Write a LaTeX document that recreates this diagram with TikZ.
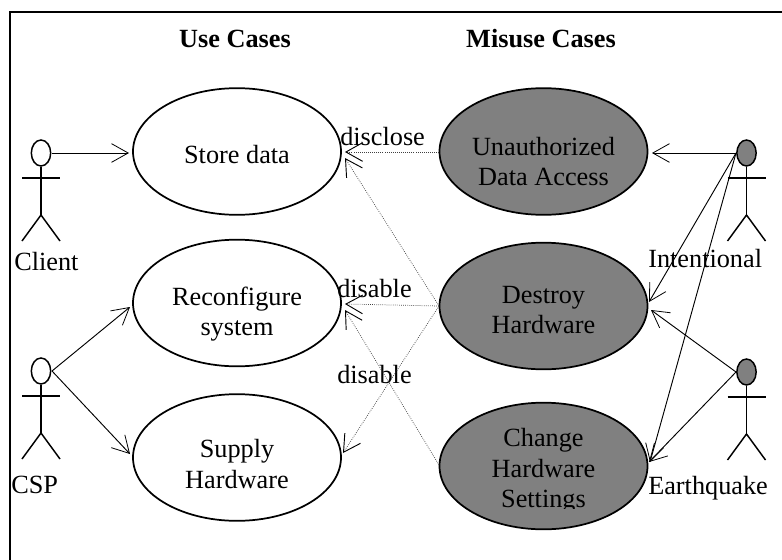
\documentclass[tikz,border=0pt]{standalone}
\usepackage{fontspec}
\setmainfont{Liberation Serif}
\usetikzlibrary{arrows.meta,shapes.geometric}
\definecolor{misuse}{HTML}{808080}
\tikzset{
  x=0.75pt,y=-0.75pt,
  usecase/.style={draw=black,line width=1.3pt,fill=white,ellipse,minimum width=156pt,minimum height=95pt,inner sep=0pt},
  misusecase/.style={usecase,fill=misuse},
  casetext/.style={inner sep=0pt,align=center,font=\fontsize{19.7}{23}\selectfont},
  lbl/.style={inner sep=0pt,font=\fontsize{19.7}{23}\selectfont,anchor=base west},
  head/.style={inner sep=0pt,font=\fontsize{19.7}{23}\selectfont\bfseries,anchor=base},
  assoc/.style={draw=black,line width=0.7pt,-{Straight Barb[length=12.5pt,width=14pt,line width=0.6pt]}},
  threat/.style={draw=black!75,line width=0.55pt,densely dotted,-{Straight Barb[length=12.5pt,width=14pt,line width=0.7pt,color=black]}},
  limb/.style={draw=black,line width=1.1pt}
}
\newcommand{\actor}[4]{% name, x, y(head centre), fill
  \node[draw=black,line width=1.1pt,fill=#4,ellipse,minimum width=14.5pt,minimum height=19.5pt,inner sep=0pt] (#1) at (#2,#3) {};
  \coordinate (#1l) at (#2-19,#3+25);
  \coordinate (#1r) at (#2+19,#3+25);
  \coordinate (#1h) at (#2,#3+62);
  \coordinate (#1f) at (#2-19,#3+88);
  \coordinate (#1g) at (#2+19,#3+88);
  \draw[limb] (#1) -- (#1h);
  \draw[limb] (#1l) -- (#1r);
  \draw[limb] (#1f) -- (#1h) -- (#1g);
}
\begin{document}
\begin{tikzpicture}
\useasboundingbox (0,0) rectangle (782,560);
\coordinate (fa) at (10,560);
\coordinate (fb) at (10,12);
\coordinate (fc) at (782,12);
\draw[black,line width=1.5pt] (fa) -- (fb) -- (fc);

\node[head] (hu) at (235,48) {Use Cases};
\node[head] (hm) at (541,48) {Misuse Cases};

\node[usecase] (store) at (237,151.5) {};
\node[usecase] (reconf) at (237,303) {};
\node[usecase] (supply) at (237,457.5) {};
\node[misusecase] (unauth) at (543.5,151.5) {};
\node[misusecase] (destroy) at (543.5,306) {};
\node[misusecase] (change) at (543.5,466) {};

\node[casetext,anchor=base] (tstore) at (237,163) {Store data};
\node[casetext] (treconf) at (237,314) {Reconfigure\\system};
\node[casetext] (tsupply) at (237,464) {Supply\\Hardware};
\node[casetext] (tunauth) at (543.5,161.5) {Unauthorized\\Data Access};
\node[casetext] (tdestroy) at (543.5,310) {Destroy\\Hardware};
\begin{scope}
  \clip (440,400) rectangle (650,508);
  \node[casetext] (tchange) at (543.5,471) {Change\\Hardware\\Settings};
\end{scope}

\actor{client}{41}{153}{white}
\actor{csp}{41}{371}{white}
\actor{intent}{746.5}{153}{misuse}
\actor{quake}{746.5}{372}{misuse}

\node[lbl] (lclient) at (14,270) {Client};
\node[lbl] (lcsp) at (11,493) {CSP};
\node[lbl] (lintent) at (648,267) {Intentional};
\node[lbl] (lquake) at (648,494) {Earthquake};
\node[lbl] (ldisclose) at (340,145) {disclose};
\node[lbl] (ldisable) at (337,297) {disable};
\node[lbl] (ldisableb) at (337,383) {disable};

\coordinate (pc) at (52,153);
\coordinate (pd) at (52,371);
\coordinate (pi) at (736,153);
\coordinate (pq) at (736,372);
\coordinate (ps) at (129,153);
\coordinate (pr) at (130,307);
\coordinate (pt) at (130,454);
\coordinate (pu) at (652,153);
\coordinate (pdi) at (649,302);
\coordinate (pdq) at (651,310);
\coordinate (pci) at (650,462);
\coordinate (pcq) at (649,462);
\draw[assoc] (pc) -- (ps);
\draw[assoc] (pd) -- (pr);
\draw[assoc] (pd) -- (pt);
\draw[assoc] (pi) -- (pu);
\draw[assoc] (pi) -- (pdi);
\draw[assoc] (pi) -- (pci);
\draw[assoc] (pq) -- (pdq);
\draw[assoc] (pq) -- (pcq);

\coordinate (du) at (439,152);
\coordinate (dd) at (439,306);
\coordinate (dc) at (439,465);
\coordinate (ts) at (345,152);
\coordinate (tss) at (345,158);
\coordinate (tr) at (345,304);
\coordinate (trr) at (345,310);
\coordinate (tp) at (343,453);
\draw[threat] (du) -- (ts);
\draw[threat] (dd) -- (tss);
\draw[threat] (dd) -- (tr);
\draw[threat] (dd) -- (tp);
\draw[threat] (dc) -- (trr);
\end{tikzpicture}
\end{document}
